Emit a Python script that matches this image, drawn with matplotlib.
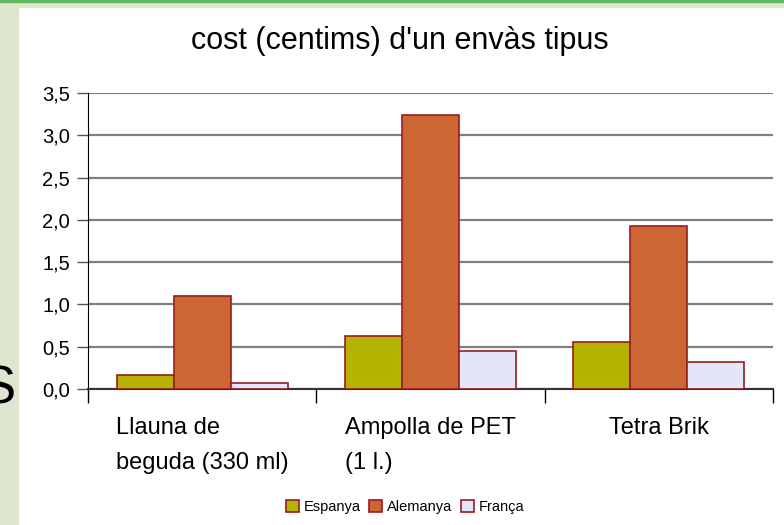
import numpy as np
import matplotlib.pyplot as plt
from matplotlib.patches import Rectangle

# data
categories = ['Llauna de\nbeguda (330 ml)', 'Ampolla de PET\n(1 l.)', 'Tetra Brik']
espanya = [0.17, 0.63, 0.55]
alemanya = [1.10, 3.24, 1.93]
franca = [0.07, 0.445, 0.315]
series_names = ['Espanya', 'Alemanya', 'França']
y_ticks = [0.0, 0.5, 1.0, 1.5, 2.0, 2.5, 3.0, 3.5]

colors = ['#b5b300', '#cc6633', '#e4e4fa']
edge = '#9b1c1c'

plt.rcParams['font.family'] = ['Liberation Sans', 'DejaVu Sans']

fig = plt.figure(figsize=(7.84, 5.25), dpi=100)

# slide-like background: green strip on left, thin bar at top
fig.patches.append(Rectangle((0, 0), 18 / 784, 1, transform=fig.transFigure,
                             color='#dfe6cf', zorder=0))
fig.patches.append(Rectangle((0, 1 - 7 / 525), 1, 7 / 525, transform=fig.transFigure,
                             color='#dfe6cf', zorder=0))
fig.patches.append(Rectangle((0, 1 - 2 / 525), 1, 2 / 525, transform=fig.transFigure,
                             color='#5cb85c', zorder=1))
# fragment of slide text cut at the left edge
fig.text(-19 / 784, 1 - 390 / 525, 'S', fontsize=38, va='center', ha='left', color='black')

ax = fig.add_axes([88 / 784, 1 - 389 / 525, (773 - 88) / 784, (389 - 93) / 525])

x = np.arange(len(categories)) + 0.5
w = 0.25
for i, (vals, name) in enumerate(zip([espanya, alemanya, franca], series_names)):
    ax.bar(x + (i - 1) * w, vals, w, color=colors[i], edgecolor=edge,
           linewidth=1.2, label=name, zorder=3)

ax.set_xlim(0, 3)
ax.set_ylim(0, 3.5)
ax.set_yticks(y_ticks)
ax.set_yticklabels([f'{v:.1f}'.replace('.', ',') for v in y_ticks], fontsize=14.5)
ax.yaxis.grid(True, color='#808080', linewidth=1.6, zorder=0)
ax.tick_params(axis='y', length=8, width=1, color='#555555', pad=5)

# boundary ticks (major) and centered labels (minor)
ax.set_xticks([0, 1, 2, 3])
ax.set_xticklabels([])
ax.set_xticks(x, minor=True)
ax.set_xticklabels(categories, minor=True, fontsize=17, multialignment='left',
                   linespacing=1.75, va='top')
ax.tick_params(axis='x', which='major', length=10, width=1, color='black')
ax.tick_params(axis='x', which='minor', length=0, pad=20)

for s in ['top', 'right']:
    ax.spines[s].set_visible(False)
ax.spines['left'].set_color('black')
ax.spines['bottom'].set_color('#333333')
ax.spines['bottom'].set_linewidth(1.5)

fig.text(400 / 784, 1 - 41 / 525, "cost (centims) d'un envàs tipus", fontsize=22,
         ha='center', va='center')

fig.legend(loc='center', bbox_to_anchor=(405 / 784, 1 - 507 / 525), ncol=3,
           frameon=False, fontsize=10.5, handlelength=0.9, handleheight=0.9,
           handletextpad=0.3, columnspacing=0.6)

fig.savefig('out.png', dpi=100)
